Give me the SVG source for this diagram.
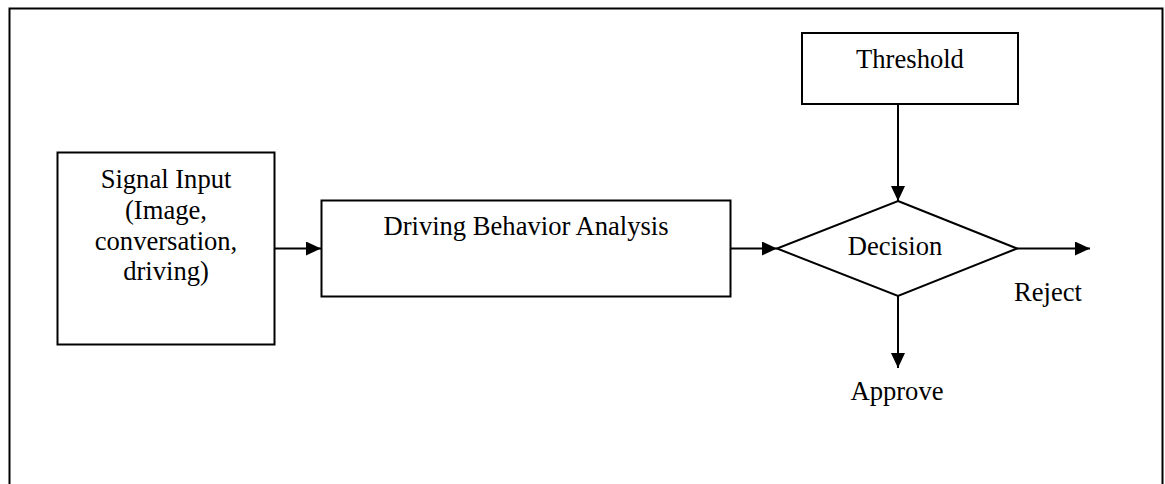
<svg xmlns="http://www.w3.org/2000/svg" width="1165" height="484" viewBox="0 0 1165 484">
<style>
.box{fill:#fff;stroke:#000;stroke-width:2}
.t{font-family:"Liberation Serif","Times New Roman",serif;font-size:26.6px;fill:#000;text-anchor:middle}
.c{stroke:#000;stroke-width:2;fill:none}
</style>
<defs>
<marker id="ah" markerWidth="15" markerHeight="14" refX="15" refY="7" orient="auto" markerUnits="userSpaceOnUse">
<path d="M0,0 L15,7 L0,14 Z" fill="#000"/>
</marker>
</defs>
<rect width="1165" height="484" fill="#fff"/>
<path d="M9.5,500 V8.5 H1162.5 V500" fill="none" stroke="#000" stroke-width="2"/>
<g id="signal">
<rect class="box" x="57.5" y="152.5" width="217" height="192"/>
<text class="t" x="166" y="188">Signal Input</text>
<text class="t" x="166" y="219">(Image,</text>
<text class="t" x="166" y="250">conversation,</text>
<text class="t" x="166" y="280">driving)</text>
</g>
<g id="analysis">
<rect class="box" x="321.5" y="200.5" width="409" height="96"/>
<text class="t" x="526" y="235">Driving Behavior Analysis</text>
</g>
<g id="threshold">
<rect class="box" x="802" y="33" width="216" height="71"/>
<text class="t" x="910" y="68">Threshold</text>
</g>
<g id="decision">
<polygon class="box" points="898,201 1017,248.5 898,296 777,248.5"/>
<text class="t" x="895" y="255">Decision</text>
</g>
<g id="reject">
<text class="t" x="1048" y="301">Reject</text>
</g>
<g id="approve">
<text class="t" x="897" y="400">Approve</text>
</g>
<g id="connectors">
<line class="c" x1="274.5" y1="248.5" x2="321" y2="248.5" marker-end="url(#ah)"/>
<line class="c" x1="730.5" y1="248.5" x2="777" y2="248.5" marker-end="url(#ah)"/>
<line class="c" x1="898" y1="104" x2="898" y2="201" marker-end="url(#ah)"/>
<line class="c" x1="1017" y1="248.5" x2="1090" y2="248.5" marker-end="url(#ah)"/>
<line class="c" x1="898" y1="296" x2="898" y2="368" marker-end="url(#ah)"/>
</g>
</svg>
